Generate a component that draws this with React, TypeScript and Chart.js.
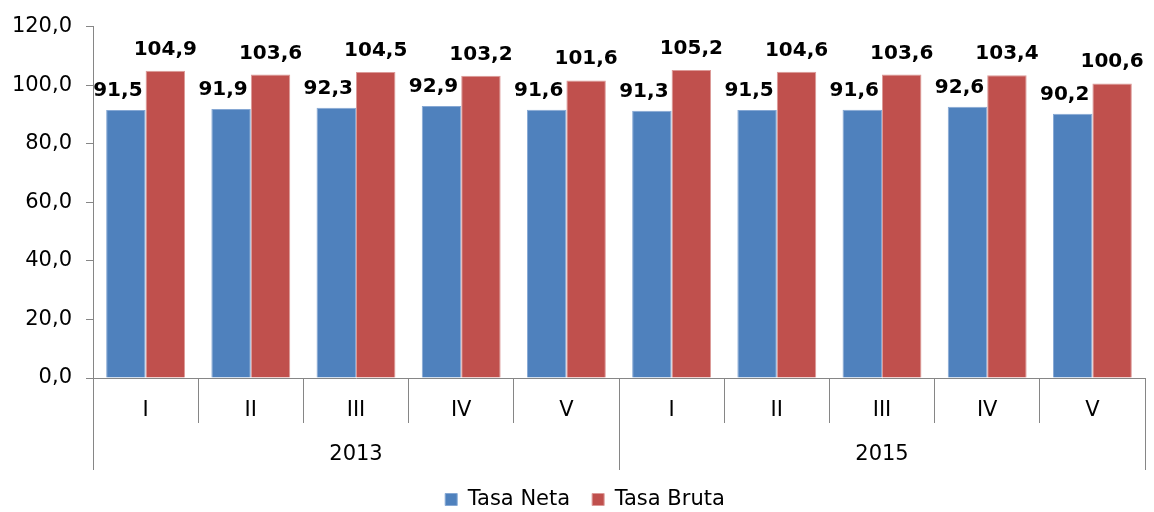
import { useEffect, useRef } from 'react';
import { Chart, registerables } from 'chart.js';
Chart.register(...registerables);

const categories = ['I', 'II', 'III', 'IV', 'V', 'I', 'II', 'III', 'IV', 'V'];
const years = ['2013', '2015'];
const tasaNeta = [91.5, 91.9, 92.3, 92.9, 91.6, 91.3, 91.5, 91.6, 92.6, 90.2];
const tasaBruta = [104.9, 103.6, 104.5, 103.2, 101.6, 105.2, 104.6, 103.6, 103.4, 100.6];
const yTicks = [0, 20, 40, 60, 80, 100, 120];

const FONT = '"DejaVu Sans", Verdana, sans-serif';
const AXIS = '#868686';
const TEXT = '#000000';
const fmt = (v: number) => v.toFixed(1).replace('.', ',');

const groupPlugin = {
  id: 'yearGroups',
  afterDraw(chart: any) {
    const x = chart.scales.x;
    const area = chart.chartArea;
    const ctx = chart.ctx;
    const n = categories.length;
    const per = n / years.length;
    const half = (x.getPixelForValue(1) - x.getPixelForValue(0)) / 2;
    const edge = (idx: number) => (idx < n ? x.getPixelForValue(idx) - half : x.getPixelForValue(n - 1) + half);
    ctx.save();
    ctx.strokeStyle = AXIS;
    ctx.lineWidth = 1;
    for (let g = 0; g <= years.length; g++) {
      const px = Math.round(edge(g * per)) + 0.5;
      ctx.beginPath();
      ctx.moveTo(px, area.bottom);
      ctx.lineTo(px, area.bottom + 92);
      ctx.stroke();
    }
    ctx.fillStyle = TEXT;
    ctx.font = `21px ${FONT}`;
    ctx.textAlign = 'center';
    ctx.textBaseline = 'middle';
    years.forEach((y, g) => {
      const c = (edge(g * per) + edge((g + 1) * per)) / 2;
      ctx.fillText(y, c, area.bottom + 77);
    });
    ctx.restore();
  },
};

const labelPlugin = {
  id: 'barLabels',
  afterDatasetsDraw(chart: any) {
    const ctx = chart.ctx;
    ctx.save();
    ctx.fillStyle = TEXT;
    ctx.font = `bold 20px ${FONT}`;
    ctx.textAlign = 'center';
    ctx.textBaseline = 'alphabetic';
    chart.data.datasets.forEach((ds: any, di: number) => {
      const meta = chart.getDatasetMeta(di);
      meta.data.forEach((el: any, i: number) => {
        const dx = di === 0 ? -8 : 0;
        const dy = di === 0 ? 14 : 16;
        ctx.fillText(fmt(ds.data[i]), el.x + dx, el.y - dy);
      });
    });
    ctx.restore();
  },
};

const legendShift = {
  id: 'legendShift',
  afterLayout(chart: any) {
    const lg = chart.legend;
    if (!lg) return;
    lg.left += 12.5;
    lg.right += 12.5;
  },
};

export default function App() {
  const ref = useRef<HTMLCanvasElement>(null);
  useEffect(() => {
    if (!ref.current) return;
    const chart = new Chart(ref.current, {
      type: 'bar',
      data: {
        labels: categories,
        datasets: [
          {
            label: 'Tasa Neta',
            data: tasaNeta,
            backgroundColor: '#4F81BD',
            borderColor: '#86a8d4',
            borderWidth: 1,
            categoryPercentage: 0.75,
            barPercentage: 1.0,
          },
          {
            label: 'Tasa Bruta',
            data: tasaBruta,
            backgroundColor: '#C0504D',
            borderColor: '#dc9a98',
            borderWidth: 1,
            categoryPercentage: 0.75,
            barPercentage: 1.0,
          },
        ],
      },
      options: {
        responsive: false,
        animation: false,
        layout: { padding: { top: 25, left: 0, right: 9, bottom: -8 } },
        plugins: {
          tooltip: { enabled: false },
          legend: {
            position: 'bottom',
            labels: {
              boxWidth: 12,
              boxHeight: 12,
              padding: 22,
              color: TEXT,
              font: { family: FONT, size: 21 },
            },
          },
        },
        scales: {
          x: {
            grid: {
              display: true,
              drawOnChartArea: false,
              offset: true,
              tickLength: 45,
              color: AXIS,
              lineWidth: 1,
            },
            border: { display: true, color: AXIS },
            ticks: {
              color: TEXT,
              font: { family: FONT, size: 21 },
              padding: -25,
              maxRotation: 0,
              autoSkip: false,
            },
            afterFit(s: any) {
              s.height = 89;
            },
          },
          y: {
            min: 0,
            max: 120,
            grid: { drawOnChartArea: false, tickLength: 7, color: AXIS },
            border: { display: true, color: AXIS },
            ticks: {
              padding: 14,
              color: TEXT,
              font: { family: FONT, size: 21 },
              callback: (v: any) => fmt(Number(v)),
            },
            afterBuildTicks(s: any) {
              s.ticks = yTicks.map((v) => ({ value: v }));
            },
            afterFit(s: any) {
              s.width = 93;
            },
          },
        },
      },
      plugins: [groupPlugin, labelPlugin, legendShift],
    });
    return () => chart.destroy();
  }, []);
  return (
    <div style={{ position: 'fixed', left: 0, top: 0, width: 1154, height: 512, background: '#fff' }}>
      <canvas ref={ref} width={1154} height={512} style={{ display: 'block' }} />
    </div>
  );
}
